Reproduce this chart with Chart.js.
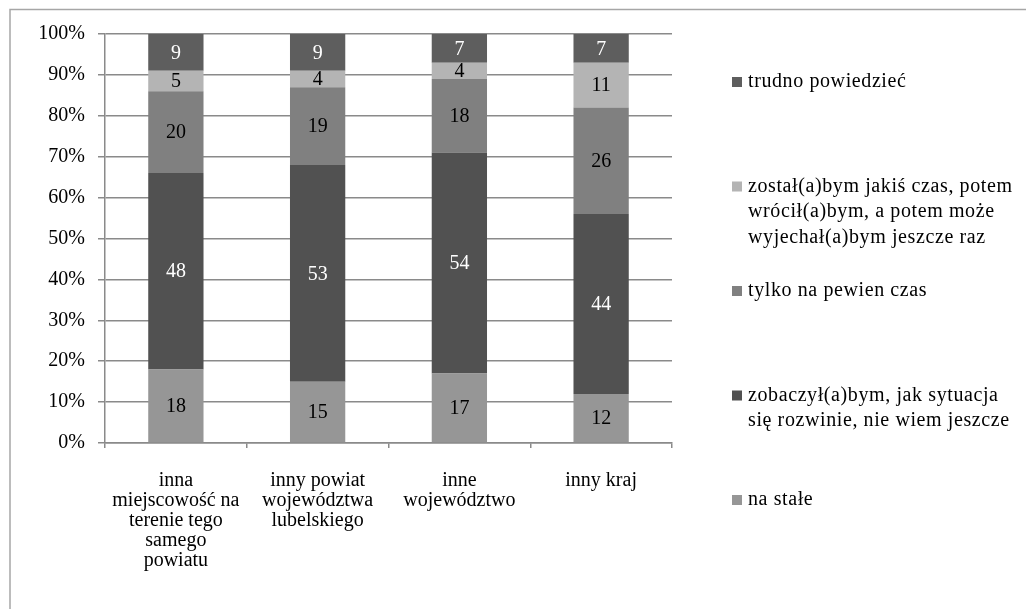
<!DOCTYPE html>
<html lang="pl">
<head>
<meta charset="utf-8">
<title>Wyjazd - na jak długo</title>
<script src="https://cdn.jsdelivr.net/npm/chart.js@4.4.1/dist/chart.umd.min.js"></script>
<style>
    html, body { margin: 0; padding: 0; background: #fff; overflow: hidden; }
    #wrap { width: 1026px; height: 609px; }
</style>
</head>
<body>
<div id="wrap"><canvas id="chart" width="1026" height="609"></canvas></div>
<script>
const categories = [
    ['inna', 'miejscowość na', 'terenie tego', 'samego', 'powiatu'],
    ['inny powiat', 'województwa', 'lubelskiego'],
    ['inne', 'województwo'],
    ['inny kraj']
];

// answers, bottom segment of each bar first
const naStale = [18, 15, 17, 12];
const zobaczylbym = [48, 53, 54, 44];
const tylkoNaCzas = [20, 19, 18, 26];
const zostalbym = [5, 4, 4, 11];
const trudnoPowiedziec = [9, 9, 7, 7];

const seriesNames = [
    ['na stałe'],
    ['zobaczył(a)bym, jak sytuacja', 'się rozwinie, nie wiem jeszcze'],
    ['tylko na pewien czas'],
    ['został(a)bym jakiś czas, potem', 'wrócił(a)bym, a potem może', 'wyjechał(a)bym jeszcze raz'],
    ['trudno powiedzieć']
];

const FONT = '"Liberation Serif", "Times New Roman", serif';
Chart.defaults.font.family = FONT;
Chart.defaults.font.size = 20;
Chart.defaults.color = '#000';

const series = [naStale, zobaczylbym, tylkoNaCzas, zostalbym, trudnoPowiedziec];
const fills = ['#969696', '#515151', '#808080', '#b4b4b4', '#5e5e5e'];
const valueColors = ['#000', '#fff', '#000', '#000', '#fff'];

const datasets = series.map((data, i) => ({
    label: seriesNames[i].join(' '),
    legendLines: seriesNames[i],
    data,
    backgroundColor: fills[i],
    valueColor: valueColors[i],
    borderWidth: 0,
    categoryPercentage: 1,
    barPercentage: 0.39
}));

// thin grey frame around the whole figure
const frame = {
    id: 'frame',
    beforeDraw(chart) {
        const ctx = chart.ctx;
        ctx.save();
        ctx.strokeStyle = '#a6a6a6';
        ctx.lineWidth = 1.5;
        ctx.beginPath();
        ctx.moveTo(10, chart.height + 2);
        ctx.lineTo(10, 9.5);
        ctx.lineTo(chart.width + 2, 9.5);
        ctx.stroke();
        ctx.restore();
    }
};

// numbers written in the middle of every segment
const segmentValues = {
    id: 'segmentValues',
    afterDatasetsDraw(chart) {
        const ctx = chart.ctx;
        ctx.save();
        ctx.font = '20px ' + FONT;
        ctx.textAlign = 'center';
        ctx.textBaseline = 'middle';
        chart.data.datasets.forEach((ds, i) => {
            chart.getDatasetMeta(i).data.forEach((bar, j) => {
                ctx.fillStyle = ds.valueColor;
                ctx.fillText(ds.data[j], bar.x, (bar.y + bar.base) / 2 + 1);
            });
        });
        ctx.restore();
    }
};

// legend on the right, top series first, multi-line names
const sideLegend = {
    id: 'sideLegend',
    afterDraw(chart, args, opts) {
        const ctx = chart.ctx;
        const items = chart.data.datasets.slice().reverse();
        ctx.save();
        ctx.font = '20px ' + FONT;
        ctx.letterSpacing = opts.spacing;
        ctx.textBaseline = 'middle';
        items.forEach((ds, i) => {
            const y = opts.top + i * opts.step;
            ctx.fillStyle = ds.backgroundColor;
            ctx.fillRect(opts.x, y - 5, 10, 10);
            ctx.fillStyle = '#000';
            ds.legendLines.forEach((line, j) => {
                ctx.fillText(line, opts.x + 16, y + j * opts.lineHeight);
            });
        });
        ctx.restore();
    }
};

new Chart(document.getElementById('chart'), {
    type: 'bar',
    data: { labels: categories, datasets },
    options: {
        responsive: false,
        animation: false,
        layout: { padding: { top: 34, right: 354, bottom: 0, left: 0 } },
        plugins: {
            legend: { display: false },
            tooltip: { enabled: false },
            sideLegend: { x: 732, top: 82, step: 104.5, lineHeight: 25.5, spacing: '0.6px' }
        },
        scales: {
            x: {
                stacked: true,
                afterFit: (s) => { s.height = 166; },
                grid: {
                    offset: true,
                    drawOnChartArea: false,
                    color: '#8a8a8a',
                    lineWidth: 1.5,
                    tickLength: 5
                },
                border: { color: '#8a8a8a', width: 1.5 },
                ticks: {
                    maxRotation: 0,
                    autoSkip: false,
                    padding: 23,
                    font: { size: 20, lineHeight: 1 }
                }
            },
            y: {
                stacked: true,
                min: 0,
                max: 100,
                afterFit: (s) => { s.width = 105; },
                grid: { color: '#8a8a8a', lineWidth: 1.5, tickLength: 7 },
                border: { color: '#8a8a8a', width: 1.5 },
                ticks: {
                    stepSize: 10,
                    padding: 13,
                    font: { size: 20 },
                    callback: (v) => v + '%'
                }
            }
        }
    },
    plugins: [frame, segmentValues, sideLegend]
});
</script>
</body>
</html>
